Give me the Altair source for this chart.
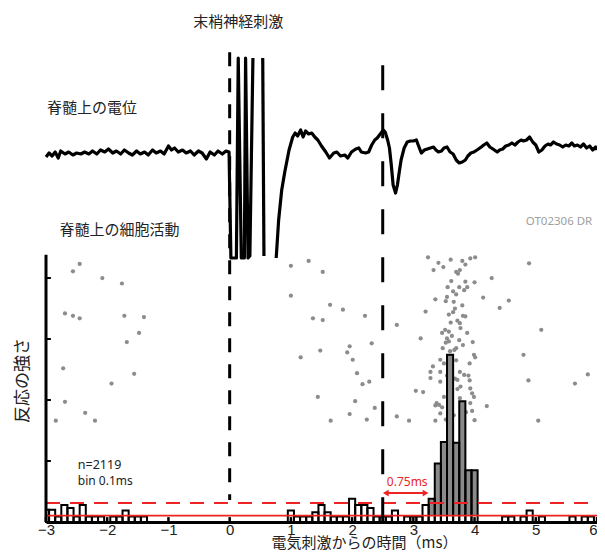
import altair as alt
import pandas as pd

# ---------------- data ----------------
# PSTH (bin 0.1 ms, bins centred on tenths of a ms)
hist_centers = [-3.0, -2.9, -2.8, -2.7, -2.6, -2.5, -2.4, -2.3, -2.2, -2.1,
                -2.0, -1.9, -1.8, -1.7, -1.6, -1.5, -1.4, -1.3, -1.2, -1.1,
                -1.0, -0.9, -0.8, -0.7, -0.6, -0.5, -0.4, -0.3, -0.2, -0.1,
                0.0, 0.1, 0.2, 0.3, 0.4, 0.5, 0.6, 0.7, 0.8, 0.9,
                1.0, 1.1, 1.2, 1.3, 1.4, 1.5, 1.6, 1.7, 1.8, 1.9,
                2.0, 2.1, 2.2, 2.3, 2.4, 2.5, 2.6, 2.7, 2.8, 2.9,
                3.0, 3.1, 3.2, 3.3, 3.4, 3.5, 3.6, 3.7, 3.8, 3.9,
                4.0, 4.1, 4.2, 4.3, 4.4, 4.5, 4.6, 4.7, 4.8, 4.9,
                5.0, 5.1, 5.2, 5.3, 5.4, 5.5, 5.6, 5.7, 5.8, 5.9, 6.0]
hist_values = [2.0, 2.0, 0.9, 2.8, 2.3, 0.9, 2.8, 0.9, 0.9, 0.9,
               0.0, 0.9, 0.9, 1.9, 0.9, 0.9, 0.9, 0.0, 0.0, 0.0,
               0.0, 0.0, 0.0, 0.0, 0.0, 0.0, 0.0, 0.0, 0.0, 0.0,
               0.0, 0.0, 0.0, 0.0, 0.0, 0.0, 0.0, 0.0, 0.0, 0.0,
               1.9, 0.9, 0.9, 0.9, 1.6, 2.8, 1.6, 0.9, 0.9, 0.9,
               3.8, 2.8, 2.8, 2.3, 0.9, 0.9, 0.9, 1.9, 0.0, 0.9,
               0.9, 0.9, 2.8, 3.8, 9.6, 13.1, 27.4, 13.0, 19.8, 8.5,
               8.5, 0.0, 0.0, 0.0, 0.0, 0.9, 0.9, 0.0, 0.9, 1.9,
               0.0, 0.9, 0.0, 0.0, 0.0, 0.0, 0.9, 0.0, 0.9, 0.9, 0.0]
sig_bins = [3.3, 3.4, 3.5, 3.6, 3.7, 3.8, 3.9, 4.0]
mean_level = 1.05
threshold_level = 3.1
y_ticks = [10, 20, 30, 40]
x_ticks = [-3, -2, -1, 0, 1, 2, 3, 4, 5, 6]

# raster dots (time ms, trial row)
dot_t = [-2.45, -2.56, -2.08, -1.76, -2.69, -2.56, -2.45, -1.72, -1.40, -1.48, -1.68, -2.72, -1.56, -1.93, -2.69, -2.36, -2.84, -2.20,
         1.00, 1.29, 1.52, 1.00, 1.64, 1.85, 1.36, 1.52, 2.21, 2.73, 3.24, 3.33, 3.36, 3.20, 3.12, 2.32, 1.96, 1.48, 1.92, 1.16,
         2.01, 2.08, 2.28, 2.17, 3.32, 3.28, 3.28, 3.04, 3.16, 1.44, 2.05, 2.37, 3.36, 1.96, 1.65, 2.24, 2.73, 2.93, 3.36,
         3.41, 3.49, 3.61, 3.85, 3.93, 4.01, 3.76, 3.73, 4.89, 4.28, 3.85, 4.00, 3.88, 3.83, 3.65, 3.70, 3.55, 3.53, 3.66, 4.14,
         4.56, 4.41, 3.65, 3.81, 3.85, 3.72, 3.61, 3.76, 3.77, 3.52, 3.58, 3.47, 5.09, 3.55, 3.58, 3.53, 3.97, 3.81, 3.70, 3.67,
         3.99, 4.01, 4.80, 3.44, 3.92, 3.44, 3.76, 3.83, 3.44, 3.72, 3.92, 4.88, 5.64, 5.85, 3.77, 3.72, 3.93, 3.96, 3.99, 3.76,
         3.38, 3.42, 3.47, 3.93, 4.20, 3.96, 3.44, 4.00, 5.04,
         3.50, 3.55, 3.62, 3.68, 3.58, 3.62, 3.50, 3.66, 3.53, 3.70, 3.60, 3.48, 3.75, 3.63, 3.68, 3.58, 3.75, 3.62, 3.80, 3.88,
         3.90, 3.86, 3.56, 3.70, 3.80]
dot_y = [42.3, 41.1, 40.0, 39.1, 34.2, 33.8, 33.4, 33.8, 33.6, 31.0, 29.5, 25.2, 24.3, 22.7, 19.7, 17.9, 16.6, 16.6,
         42.0, 42.8, 41.0, 37.1, 35.6, 34.8, 33.4, 33.1, 33.8, 32.3, 43.4, 41.3, 36.5, 34.5, 30.1, 29.3, 28.8, 28.1, 27.8, 27.0,
         26.6, 24.4, 23.0, 22.6, 25.5, 24.6, 23.6, 21.5, 21.3, 20.5, 19.8, 18.7, 19.1, 17.7, 16.6, 16.8, 17.3, 16.6, 16.6,
         42.5, 41.8, 43.0, 42.2, 43.2, 43.4, 41.3, 40.7, 42.4, 40.0, 39.4, 39.3, 38.5, 38.0, 37.8, 37.3, 36.9, 36.2, 36.1, 36.8,
         36.3, 35.1, 34.4, 33.8, 33.7, 33.0, 32.7, 32.6, 31.8, 31.5, 31.2, 31.0, 31.5, 30.1, 29.6, 29.4, 29.5, 29.0, 28.5, 28.2,
         27.4, 27.0, 27.4, 26.6, 26.0, 24.6, 24.6, 24.1, 23.0, 23.3, 23.2, 23.2, 22.7, 24.2, 22.2, 21.8, 21.9, 21.1, 20.5, 20.3,
         19.5, 19.2, 18.8, 19.5, 19.0, 18.2, 17.8, 16.7, 16.6,
         26.0, 24.0, 25.5, 23.5, 21.0, 19.0, 20.5, 17.5, 16.8, 26.5, 28.0, 28.5, 29.8, 30.5, 35.0, 34.0, 38.5, 39.5, 35.5, 31.0,
         24.0, 18.0, 38.5, 41.0, 42.8]

# spinal field potential trace (time ms, potential a.u.), split in segments where it leaves the frame
trace_t = [-3.0, -2.95, -2.9, -2.85, -2.8, -2.76, -2.69, -2.63, -2.56, -2.5, -2.43, -2.37, -2.3, -2.24, -2.17, -2.11,
           -2.04, -1.98, -1.91, -1.85, -1.78, -1.72, -1.65, -1.59, -1.52, -1.46, -1.39, -1.33, -1.26, -1.2, -1.13, -1.07,
           -1.0, -0.95, -0.9, -0.84, -0.77, -0.71, -0.64, -0.58, -0.51, -0.45, -0.38, -0.32, -0.25, -0.19, -0.12, -0.06,
           -0.01, 0.02, 0.11, 0.14, 0.19, 0.24, 0.26, 0.30, 0.33, 0.38,
           0.54, 0.56,
           0.76, 0.80, 0.85, 0.90, 0.97, 1.03, 1.07, 1.11, 1.16, 1.20, 1.24, 1.29, 1.34, 1.39, 1.44, 1.50, 1.57, 1.63,
           1.70, 1.75, 1.81, 1.88, 1.93, 1.99, 2.06, 2.11, 2.15, 2.22, 2.27, 2.32, 2.37, 2.41, 2.46, 2.51, 2.54, 2.58,
           2.61, 2.64, 2.67, 2.71, 2.74, 2.77, 2.80, 2.85, 2.90, 2.95, 3.00, 3.05, 3.08, 3.13, 3.18, 3.23, 3.28, 3.33,
           3.37, 3.41, 3.46, 3.50, 3.55, 3.60, 3.65, 3.70, 3.75, 3.80, 3.85, 3.89, 3.94, 3.99, 4.04, 4.11, 4.15, 4.20,
           4.25, 4.30, 4.37, 4.41, 4.46, 4.51, 4.56, 4.61, 4.66, 4.71, 4.76, 4.80, 4.85, 4.90, 4.95, 5.00, 5.05, 5.10,
           5.15, 5.20, 5.24, 5.29, 5.34, 5.39, 5.44, 5.49, 5.54, 5.59, 5.63, 5.68, 5.73, 5.78, 5.83, 5.88, 5.93, 5.98, 6.0]
trace_v = [-0.2, 0.2, -0.1, 0.3, -0.3, 0.4, 0.1, 0.3, 0.0, 0.2, 0.1, 0.3, 0.1, 0.4, 0.1, 0.5,
           0.3, 0.6, 0.2, 0.4, 0.1, 0.5, 0.2, 0.0, 0.4, 0.1, 0.3, 0.0, 0.5, 0.2, 0.4, 0.1,
           0.9, 0.5, 0.7, 0.3, 0.5, 0.2, 0.4, 0.0, 0.4, 0.2, -0.4, 0.3, 0.0, 0.4, 0.1, 0.4,
           0.3, -10.3, -10.3, 9.7, -10.3, -10.3, 9.7, -10.3, -10.1, 9.7,
           9.7, -10.1,
           -10.3, -6.5, -3.5, -1.7, 0.5, 1.8, 2.2, 1.9, 2.5, 1.8, 2.4, 2.1, 2.2, 1.8, 1.5, 0.9, 0.3, -0.3,
           0.2, 0.3, -0.1, 0.0, -0.3, 0.3, 0.6, 0.7, 0.3, 0.2, 0.3, 1.0, 1.5, 1.7, 2.1, 2.5, 2.3, 1.5,
           0.7, -1.0, -3.0, -3.8, -3.0, -1.7, -0.5, 0.7, 1.3, 1.4, 1.4, 1.5, 1.0, 0.2, 0.5, 0.6, 0.7, 0.8,
           0.5, 0.3, 0.4, 0.7, 0.8, 0.3, 0.1, -0.5, -0.8, -0.7, -0.5, -0.1, 0.2, 0.3, 0.5, 0.8, 1.0, 1.2,
           0.8, 0.6, 0.3, 0.5, 0.6, 0.9, 1.0, 1.2, 1.0, 1.3, 1.5, 1.4, 1.5, 1.8, 1.3, 1.0, 0.3, 0.5,
           0.9, 1.1, 1.0, 1.3, 1.1, 1.0, 0.8, 1.0, 0.9, 1.2, 0.9, 1.0, 0.8, 1.1, 0.7, 0.9, 0.5, 0.8, 0.5]
trace_seg = ["a"] * 58 + ["b"] * 2 + ["c"] * (len(trace_t) - 60)

# ---------------- frames ----------------
hist_df = pd.DataFrame({
    "x": [max(c - 0.05, -3.0) for c in hist_centers],
    "x2": [min(c + 0.05, 6.0) for c in hist_centers],
    "y": hist_values,
    "y2": [0.0] * len(hist_values),
})
sig_df = pd.DataFrame({
    "x": [c - 0.05 for c in sig_bins],
    "x2": [c + 0.05 for c in sig_bins],
    "y": [hist_values[hist_centers.index(c)] for c in sig_bins],
    "y2": [mean_level] * len(sig_bins),
})
dots_df = pd.DataFrame({"x": dot_t, "y": dot_y})
trace_df = pd.DataFrame({"x": trace_t, "v": trace_v, "seg": trace_seg})

RED = "#ee2424"
JP = "Noto Sans CJK JP"
LAT = "Noto Sans"

xs = alt.Scale(domain=[-3, 6], nice=False, zero=False)
yb = alt.Scale(domain=[0, 77.38], nice=False, zero=False)
yt = alt.Scale(domain=[-36.7, 10.5], nice=False, zero=False)

x_axis = alt.Axis(values=x_ticks, ticks=False, domain=True, domainWidth=3, domainColor="black",
                  grid=False, labelFont="Liberation Sans", labelFontSize=15, labelColor="#222",
                  labelPadding=0, labelOverlap=False, labelFlush=False,
                  labelAlign={"expr": "datum.value >= 6 ? 'right' : 'center'"},
                  title="電気刺激からの時間（ms）", titleFont=JP, titleFontSize=15,
                  titleFontWeight="normal", titleColor="#222", titleX=318, titleY=20,
                  titleBaseline="middle", titleAlign="center")
y_axis = alt.Axis(title="反応の強さ", domain=False, ticks=False, labels=False, grid=False,
                  titleFont=JP, titleFontSize=17, titleFontWeight="normal", titleColor="#222",
                  titleX=-24, titleY=330, titleAngle=270, titleBaseline="middle", titleAlign="center")


def X(f="x"):
    return alt.X(f + ":Q", scale=xs, axis=x_axis)


def Y(f="y"):
    return alt.Y(f + ":Q", scale=yb, axis=y_axis)


def rule_df(x, x2, y, y2):
    return pd.DataFrame({"x": x, "x2": x2, "y": y, "y2": y2})


dots = alt.Chart(dots_df).mark_circle(size=18, color="#8c8c8c", opacity=1).encode(x=X(), y=Y())

grey = alt.Chart(sig_df).mark_rect(fill="#8a8a8a").encode(
    x=X(), x2="x2:Q", y=Y(), y2="y2:Q")
bars = alt.Chart(hist_df).mark_rect(fillOpacity=0, stroke="black", strokeWidth=2).encode(
    x=X(), x2="x2:Q", y=Y(), y2="y2:Q")

mean_line = alt.Chart(rule_df([-3], [6], [mean_level], [mean_level])).mark_rule(
    color=RED, strokeWidth=1.6).encode(x=X(), x2="x2:Q", y=Y())
thr_line = alt.Chart(rule_df([-3], [6], [threshold_level], [threshold_level])).mark_rule(
    color=RED, strokeWidth=2, strokeDash=[14, 10]).encode(x=X(), x2="x2:Q", y=Y())

stim_line = alt.Chart(rule_df([0], [0], [77.0], [3.6])).mark_rule(
    color="black", strokeWidth=3, strokeDash=[14, 12]).encode(x=X(), y=Y(), y2="y2:Q")
onset_line = alt.Chart(rule_df([2.5], [2.5], [74.9], [0])).mark_rule(
    color="black", strokeWidth=3, strokeDash=[25, 23]).encode(x=X(), y=Y(), y2="y2:Q")

left_axis = alt.Chart(rule_df([-3], [-3], [0], [43.8])).mark_rule(
    color="black", strokeWidth=3).encode(x=X(), y=Y(), y2="y2:Q")
left_ticks = alt.Chart(rule_df([-3] * 4, [-2.92] * 4, y_ticks, y_ticks)).mark_rule(
    color="black", strokeWidth=2).encode(x=X(), x2="x2:Q", y=Y())
bottom_ticks = alt.Chart(rule_df(x_ticks, x_ticks, [0] * 10, [0.8] * 10)).mark_rule(
    color="black", strokeWidth=2.5).encode(x=X(), y=Y(), y2="y2:Q")

arrow_shaft = alt.Chart(rule_df([2.56], [3.19], [4.75], [4.75])).mark_rule(
    color=RED, strokeWidth=2).encode(x=X(), x2="x2:Q", y=Y())
arrow_l = alt.Chart(pd.DataFrame({"x": [2.55], "y": [4.75]})).mark_point(
    shape="triangle-left", filled=True, size=45, color=RED, opacity=1).encode(x=X(), y=Y())
arrow_r = alt.Chart(pd.DataFrame({"x": [3.20], "y": [4.75]})).mark_point(
    shape="triangle-right", filled=True, size=45, color=RED, opacity=1).encode(x=X(), y=Y())


def label(x, y, txt, font, size, color, align="center"):
    return alt.Chart(pd.DataFrame({"x": [x], "y": [y], "t": [txt]})).mark_text(
        font=font, fontSize=size, color=color, align=align, baseline="middle").encode(
        x=X(), y=Y(), text="t:N")


texts = [
    label(0.14, 82.0, "末梢神経刺激", JP, 15, "#222"),
    label(-2.25, 67.9, "脊髄上の電位", JP, 15, "#222"),
    label(-1.80, 47.9, "脊髄上の細胞活動", JP, 15, "#222"),
    label(5.38, 49.2, "OT02306 DR", LAT, 11.5, "#a0a0a0"),
    label(-2.48, 9.3, "n=2119", LAT, 12.5, "#222", "left"),
    label(-2.48, 6.8, "bin 0.1ms", LAT, 12, "#222", "left"),
    label(2.90, 6.6, "0.75ms", LAT, 12, RED),
]

bottom = alt.layer(dots, grey, bars, mean_line, thr_line, stim_line, onset_line,
                   left_axis, left_ticks, bottom_ticks, arrow_shaft, arrow_l, arrow_r, *texts)

trace = alt.Chart(trace_df).mark_line(color="black", strokeWidth=3.2, strokeJoin="round").encode(
    x=X(), y=alt.Y("v:Q", scale=yt, axis=None), detail="seg:N")

chart = alt.layer(bottom, trace).resolve_scale(y="independent").properties(
    width=551, height=472,
    autosize=alt.AutoSizeParams(type="none"),
    padding={"left": 38, "top": 42, "right": 0, "bottom": 29},
).configure_view(stroke=None)

chart.save("out.html", embed_options={"renderer": "svg", "actions": False})
